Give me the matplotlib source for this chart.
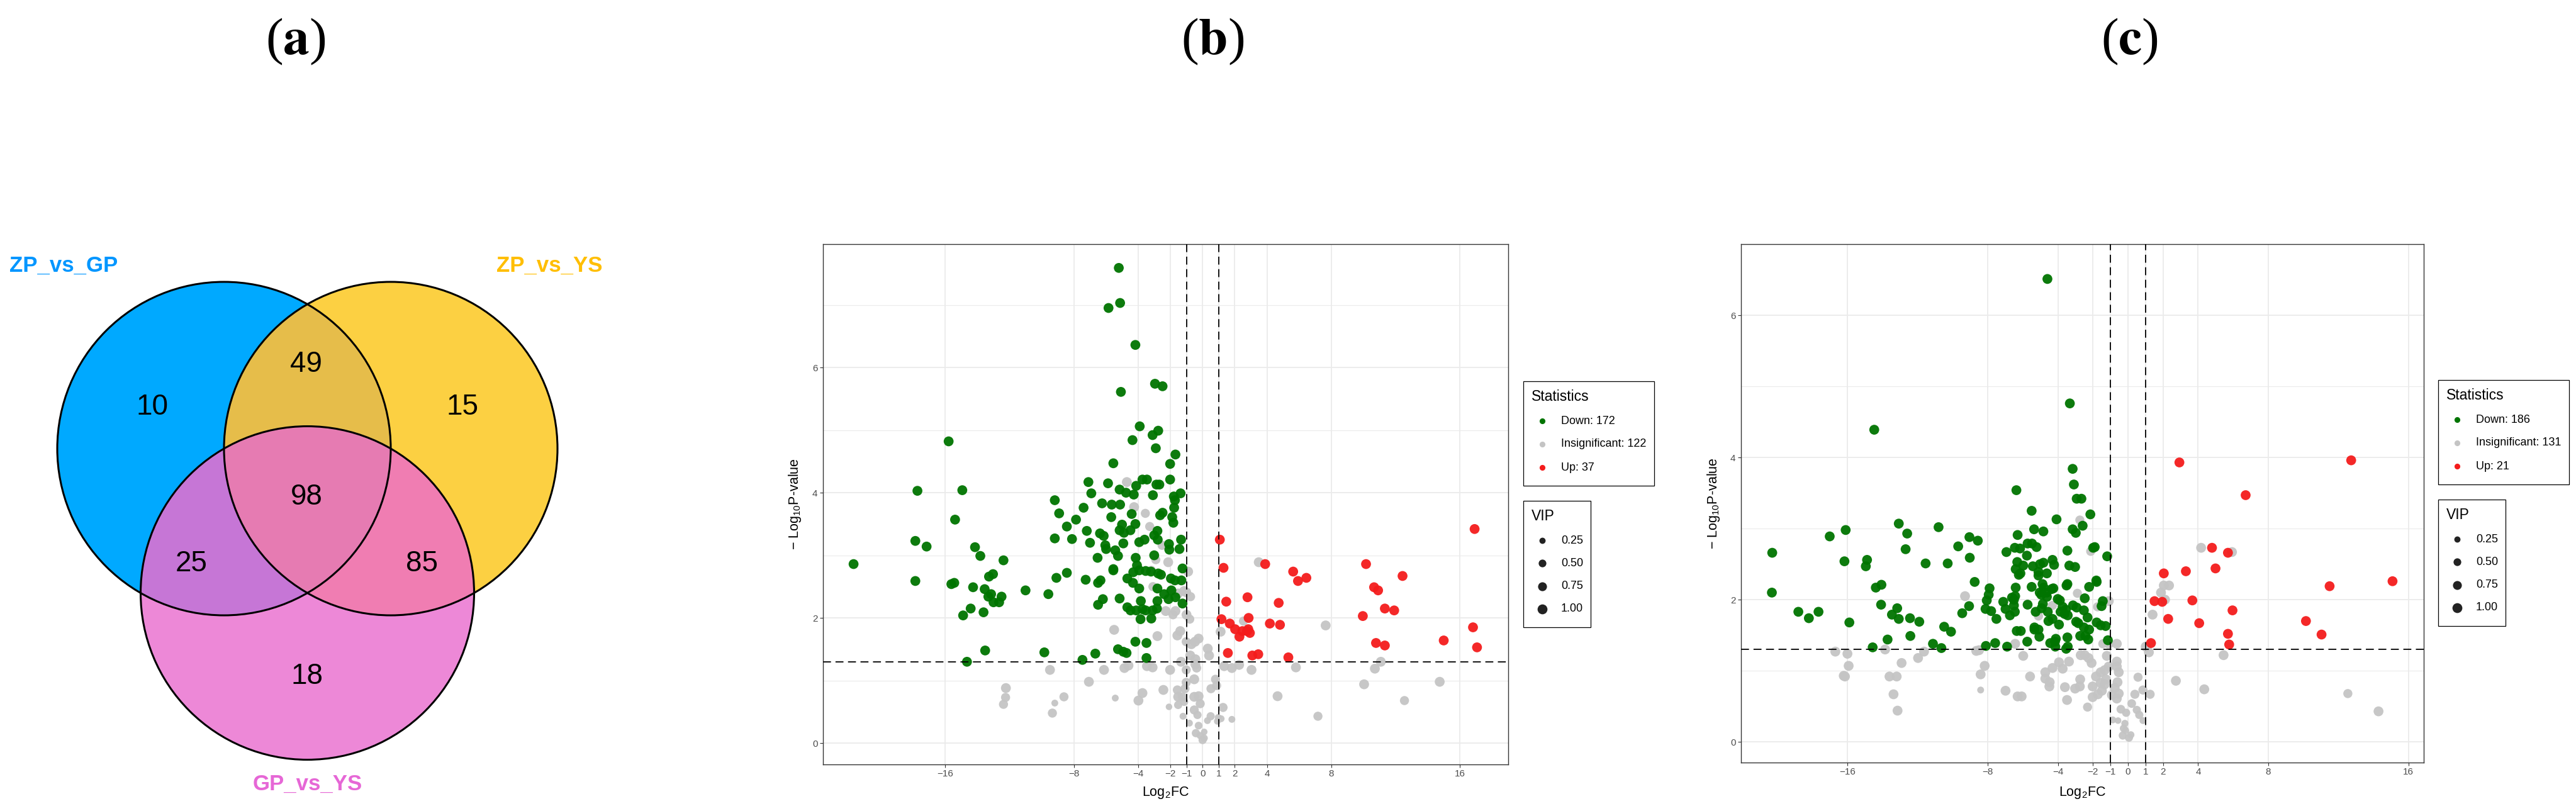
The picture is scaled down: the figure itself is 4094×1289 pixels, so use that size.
import numpy as np
import matplotlib
matplotlib.use("Agg")
import matplotlib.pyplot as plt
from matplotlib.patches import Circle, Rectangle
from matplotlib.lines import Line2D

W, H, DPI = 4094, 1289, 100
plt.rcParams['font.family'] = ['Liberation Sans', 'DejaVu Sans']
plt.rcParams['mathtext.fontset'] = 'custom'
plt.rcParams['mathtext.rm'] = 'Liberation Sans'
plt.rcParams['mathtext.it'] = 'Liberation Sans:italic'
plt.rcParams['mathtext.bf'] = 'Liberation Sans:bold'

# ---------------- data ----------------
panel_titles = ['a', 'b', 'c']

venn_names = ['ZP_vs_GP', 'ZP_vs_YS', 'GP_vs_YS']
venn_regions = ['A', 'B', 'C', 'AB', 'AC', 'BC', 'ABC']
venn_counts = [10, 15, 18, 49, 25, 85, 98]

stat_names = ['Down', 'Insignificant', 'Up']
b_counts = [172, 122, 37]
c_counts = [186, 131, 21]
vip_breaks = [0.25, 0.50, 0.75, 1.00]

x_ticks = [-16, -8, -4, -2, -1, 0, 1, 2, 4, 8, 16]
y_ticks = [0, 2, 4, 6]
fc_cut = 1
p_cut = 0.05

# panel (b): (log2FC, -log10 P, VIP)
b_down = [
    (-5.21, 7.59, 1), (-5.13, 7.03, 1), (-5.85, 6.95, 1), (-4.18, 6.36, 1), (-2.96, 5.74, 1),
    (-2.49, 5.70, 1), (-5.08, 5.61, 1), (-3.91, 5.06, 1), (-2.76, 4.99, 1), (-3.11, 4.92, 1),
    (-4.36, 4.84, 1), (-2.91, 4.71, 1), (-1.69, 4.61, 1), (-2.02, 4.46, 1), (-5.55, 4.47, 1),
    (-15.79, 4.82, 1), (-17.73, 4.03, 1), (-14.94, 4.04, 1), (-15.39, 3.57, 1), (-17.86, 3.23, 1),
    (-17.16, 3.14, 1), (-17.86, 2.59, 1), (-15.62, 2.54, 1), (-15.44, 2.56, 1), (-14.15, 3.13, 1),
    (-13.82, 2.99, 1), (-12.38, 2.92, 1), (-13.28, 2.66, 1), (-13.03, 2.70, 1), (-14.27, 2.49, 1),
    (-13.55, 2.46, 1), (-13.15, 2.38, 1), (-13.32, 2.34, 1), (-12.50, 2.34, 1), (-13.00, 2.25, 1),
    (-12.65, 2.25, 1), (-14.42, 2.15, 1), (-13.62, 2.09, 1), (-14.89, 2.04, 1), (-11.01, 2.44, 1),
    (-9.59, 2.38, 1), (-9.09, 2.64, 1), (-8.44, 2.72, 1), (-13.52, 1.48, 1), (-14.65, 1.30, 1),
    (-9.84, 1.45, 1), (-7.47, 1.33, 1), (-6.67, 1.43, 1), (-9.19, 3.88, 1), (-8.92, 3.67, 1),
    (-9.19, 3.27, 1), (-8.44, 3.46, 1), (-8.12, 3.26, 1), (-7.87, 3.57, 1), (-7.40, 3.76, 1),
    (-7.10, 4.17, 1), (-6.92, 3.99, 1), (-7.20, 3.39, 1), (-7.00, 3.20, 1), (-6.25, 3.83, 1),
    (-5.88, 4.15, 1), (-5.65, 3.81, 1), (-5.16, 4.05, 1), (-5.13, 3.81, 1), (-4.76, 4.00, 1),
    (-4.28, 3.97, 1), (-4.13, 4.11, 1), (-3.74, 4.21, 1), (-3.46, 4.21, 1), (-3.09, 3.96, 1),
    (-2.87, 4.13, 1), (-2.69, 4.13, 1), (-2.02, 4.21, 1), (-1.79, 3.94, 1), (-1.72, 3.88, 1),
    (-1.37, 3.99, 1), (-1.77, 3.76, 1), (-1.89, 3.61, 1), (-1.82, 3.52, 1), (-2.64, 3.64, 1),
    (-2.49, 3.68, 1), (-4.41, 3.66, 1), (-4.18, 3.50, 1), (-5.68, 3.61, 1), (-5.01, 3.49, 1),
    (-5.16, 3.40, 1), (-4.89, 3.36, 1), (-4.49, 3.40, 1), (-6.38, 3.35, 1), (-6.15, 3.31, 1),
    (-6.05, 3.16, 1), (-6.00, 3.10, 1), (-5.43, 3.08, 1), (-5.26, 2.99, 1), (-6.53, 2.96, 1),
    (-4.93, 3.19, 1), (-3.94, 3.21, 1), (-3.61, 3.25, 1), (-3.01, 3.32, 1), (-2.81, 3.39, 1),
    (-2.79, 3.25, 1), (-2.09, 3.18, 1), (-2.07, 3.09, 1), (-1.44, 3.10, 1), (-1.34, 3.25, 1),
    (-4.16, 2.96, 1), (-3.01, 3.00, 1), (-5.55, 2.78, 1), (-5.55, 2.76, 1), (-4.08, 2.84, 1),
    (-4.31, 2.73, 1), (-3.94, 2.76, 1), (-3.54, 2.75, 1), (-3.21, 2.74, 1), (-2.76, 2.71, 1),
    (-2.59, 2.69, 1), (-1.97, 2.63, 1), (-1.72, 2.60, 1), (-1.32, 2.60, 1), (-1.25, 2.79, 1),
    (-4.68, 2.63, 1), (-4.33, 2.56, 1), (-3.94, 2.47, 1), (-2.81, 2.47, 1), (-7.27, 2.61, 1),
    (-6.50, 2.56, 1), (-6.35, 2.60, 1), (-6.50, 2.21, 1), (-6.20, 2.30, 1), (-5.16, 2.31, 1),
    (-3.84, 2.27, 1), (-2.81, 2.27, 1), (-2.12, 2.30, 1), (-1.94, 2.44, 1), (-1.69, 2.33, 1),
    (-1.25, 2.23, 1), (-2.39, 2.38, 1), (-4.68, 2.17, 1), (-4.48, 2.12, 1), (-4.13, 2.12, 1),
    (-3.74, 2.14, 1), (-3.54, 2.12, 1), (-3.11, 2.12, 1), (-2.84, 2.15, 1), (-3.86, 1.98, 1),
    (-3.19, 1.99, 1), (-5.26, 1.50, 1), (-4.93, 1.46, 1), (-4.73, 1.44, 1), (-4.18, 1.62, 1),
    (-3.49, 1.60, 1), (-3.49, 1.36, 1), (-21.70, 2.86, 1),
]
b_insig = [
    (-4.71, 4.17, 1), (-4.26, 3.77, 1), (-3.56, 3.67, 0.8), (-3.29, 3.46, 0.8), (-2.52, 3.16, 0.8),
    (-2.14, 2.89, 1), (-2.91, 2.93, 0.8), (-3.09, 2.50, 0.8), (-3.19, 2.76, 0.8), (-1.99, 2.42, 1),
    (-1.52, 2.39, 1), (-1.15, 2.43, 1), (-0.90, 2.74, 1), (-1.02, 2.41, 1), (-0.75, 2.34, 0.8),
    (-2.29, 2.11, 1), (-1.69, 2.11, 1), (-1.84, 2.05, 0.8), (-1.00, 2.05, 1), (-0.80, 1.98, 0.8),
    (-5.50, 1.81, 1), (-2.81, 1.71, 1), (-1.57, 1.72, 1), (-1.39, 1.79, 1), (-1.02, 1.62, 0.8),
    (-0.47, 1.62, 1), (-0.25, 1.67, 1), (0.32, 1.51, 1), (0.40, 1.40, 1), (-0.77, 1.40, 1),
    (-0.45, 1.34, 1), (-1.34, 1.30, 1), (-1.02, 1.17, 0.8), (-0.45, 1.26, 1), (-0.37, 1.20, 0.8),
    (1.12, 1.78, 1), (2.54, 1.95, 0.8), (3.49, 2.89, 1), (7.65, 1.88, 1), (1.34, 1.23, 1),
    (1.82, 1.20, 1), (2.27, 1.25, 1), (3.04, 1.17, 1), (5.80, 1.21, 1), (10.71, 1.19, 1),
    (11.08, 1.30, 1), (10.04, 0.94, 1), (14.74, 0.98, 1), (12.55, 0.68, 0.8), (7.17, 0.43, 0.8),
    (4.66, 0.75, 1), (1.82, 0.38, 0.35), (1.27, 0.57, 0.8), (1.15, 0.39, 0.35), (0.92, 0.35, 0.35),
    (0.80, 1.02, 0.8), (0.87, 0.92, 0.8), (0.52, 0.87, 0.8), (-0.52, 1.02, 1), (-1.02, 0.97, 0.8),
    (-1.10, 0.87, 0.8), (-1.27, 0.74, 0.8), (-1.15, 0.66, 0.6), (-1.52, 0.74, 1), (-1.57, 0.85, 0.8),
    (-2.44, 0.85, 1), (-2.09, 0.58, 0.3), (-1.22, 0.43, 0.35), (-0.82, 0.32, 0.35), (-0.52, 0.74, 1),
    (-0.25, 0.75, 1), (-0.15, 0.63, 0.8), (-0.52, 0.53, 0.8), (-0.32, 0.45, 0.6), (-0.25, 0.28, 0.5),
    (-0.42, 0.16, 0.6), (-0.15, 0.12, 0.4), (0.10, 0.18, 0.3), (0.00, 0.05, 0.6), (0.10, 0.08, 0.4),
    (0.30, 0.36, 0.35), (0.50, 0.43, 0.6), (0.97, 0.41, 0.35), (-3.74, 0.80, 1), (-3.99, 0.68, 1),
    (-5.43, 0.72, 0.35), (-7.07, 0.98, 1), (-8.62, 0.74, 0.8), (-9.19, 0.64, 0.35), (-9.34, 0.48, 0.8),
    (-9.49, 1.17, 1), (-6.13, 1.17, 1), (-4.86, 1.20, 1), (-4.61, 1.24, 1), (-3.46, 1.23, 1),
    (-3.11, 1.21, 1), (-2.02, 1.17, 1), (-12.23, 0.88, 1), (-12.25, 0.73, 0.8), (-12.38, 0.62, 0.8),
    (-1.52, 0.61, 0.6), (-0.70, 1.58, 1),
]
b_up = [
    (1.07, 3.25, 1), (1.30, 2.80, 1), (1.47, 2.26, 1), (1.17, 1.98, 1), (1.69, 1.91, 1),
    (2.02, 1.82, 1), (2.29, 1.70, 1), (2.47, 1.79, 1), (2.76, 1.79, 1), (2.84, 1.82, 1),
    (2.94, 1.76, 1), (2.79, 2.33, 1), (2.86, 2.00, 1), (1.57, 1.44, 1), (3.09, 1.40, 1),
    (3.46, 1.42, 1), (3.89, 2.86, 1), (4.18, 1.91, 1), (4.73, 2.24, 1), (4.81, 1.89, 1),
    (5.33, 1.37, 1), (5.63, 2.74, 1), (5.93, 2.59, 1), (6.45, 2.64, 1), (10.16, 2.86, 1),
    (9.96, 2.03, 1), (10.66, 2.49, 1), (10.91, 2.44, 1), (11.33, 2.15, 1), (11.91, 2.12, 1),
    (12.43, 2.67, 1), (10.78, 1.60, 1), (11.33, 1.56, 1), (14.99, 1.64, 1), (16.81, 1.85, 1),
    (17.06, 1.53, 1), (16.91, 3.42, 1),
]

# panel (c)
c_down = [
    (-4.60, 6.51, 1), (-3.32, 4.76, 1), (-14.48, 4.39, 1), (-3.16, 3.84, 1), (-3.09, 3.62, 1),
    (-6.37, 3.54, 1), (-2.93, 3.42, 1), (-2.66, 3.42, 1), (-5.50, 3.25, 1), (-2.15, 3.20, 1),
    (-4.08, 3.13, 1), (-2.59, 3.04, 1), (-3.16, 2.99, 1), (-2.98, 2.94, 1), (-5.36, 2.99, 1),
    (-4.83, 2.96, 1), (-6.30, 2.91, 1), (-13.08, 3.07, 1), (-12.60, 2.93, 1), (-10.81, 3.02, 1),
    (-16.11, 2.98, 1), (-17.02, 2.89, 1), (-20.30, 2.66, 1), (-20.32, 2.10, 1), (-16.18, 2.54, 1),
    (-14.89, 2.56, 1), (-14.96, 2.47, 1), (-12.69, 2.71, 1), (-11.55, 2.51, 1), (-10.29, 2.51, 1),
    (-9.69, 2.75, 1), (-9.05, 2.88, 1), (-8.57, 2.83, 1), (-9.03, 2.59, 1), (-8.75, 2.25, 1),
    (-7.90, 2.16, 1), (-7.95, 2.07, 1), (-8.06, 1.99, 1), (-8.13, 1.87, 1), (-7.81, 1.84, 1),
    (-7.51, 1.73, 1), (-8.11, 1.35, 1), (-7.58, 1.39, 1), (-6.90, 1.34, 1), (-9.07, 1.91, 1),
    (-9.46, 1.81, 1), (-6.94, 2.67, 1), (-6.46, 2.73, 1), (-6.16, 2.72, 1), (-5.73, 2.79, 1),
    (-5.48, 2.79, 1), (-5.22, 2.74, 1), (-5.77, 2.62, 1), (-6.32, 2.53, 1), (-5.98, 2.48, 1),
    (-6.41, 2.43, 1), (-6.23, 2.35, 1), (-6.14, 2.37, 1), (-5.43, 2.47, 1), (-5.02, 2.50, 1),
    (-4.83, 2.52, 1), (-5.11, 2.39, 1), (-5.11, 2.34, 1), (-4.63, 2.37, 1), (-4.31, 2.56, 1),
    (-4.22, 2.49, 1), (-3.46, 2.69, 1), (-3.35, 2.48, 1), (-3.02, 2.46, 1), (-3.46, 2.22, 1),
    (-3.51, 2.20, 1), (-2.22, 2.18, 1), (-1.99, 2.73, 1), (-1.90, 2.74, 1), (-1.19, 2.61, 1),
    (-1.81, 2.27, 1), (-1.79, 2.25, 1), (-6.41, 2.17, 1), (-5.50, 2.18, 1), (-4.88, 2.22, 1),
    (-4.81, 2.17, 1), (-6.44, 2.05, 1), (-6.51, 2.00, 1), (-6.51, 1.92, 1), (-6.62, 2.03, 1),
    (-7.12, 1.97, 1), (-6.99, 1.87, 1), (-6.74, 1.78, 1), (-6.46, 1.83, 1), (-5.73, 1.93, 1),
    (-5.27, 1.83, 1), (-5.04, 2.10, 1), (-4.95, 2.07, 1), (-4.63, 2.10, 1), (-4.63, 2.04, 1),
    (-4.35, 2.15, 1), (-4.26, 2.16, 1), (-4.01, 2.01, 1), (-3.89, 1.99, 1), (-3.73, 1.90, 1),
    (-3.55, 1.86, 1), (-3.85, 1.83, 1), (-3.62, 1.80, 1), (-4.86, 1.94, 1), (-4.93, 1.88, 1),
    (-4.58, 1.83, 1), (-4.31, 1.73, 1), (-4.54, 1.70, 1), (-3.94, 1.65, 1), (-3.44, 1.78, 1),
    (-3.14, 1.92, 1), (-2.93, 1.89, 1), (-2.52, 1.85, 1), (-2.47, 2.02, 1), (-2.96, 1.69, 1),
    (-2.84, 1.67, 1), (-2.31, 1.75, 1), (-1.79, 1.68, 1), (-1.56, 1.64, 1), (-1.28, 1.63, 1),
    (-1.44, 1.98, 1), (-1.51, 1.91, 1), (-2.52, 1.61, 1), (-2.22, 1.58, 1), (-2.73, 1.49, 1),
    (-2.43, 1.49, 1), (-2.27, 1.44, 1), (-1.15, 1.43, 1), (-5.34, 1.61, 1), (-5.11, 1.58, 1),
    (-5.34, 1.58, 1), (-5.06, 1.48, 1), (-6.35, 1.56, 1), (-6.12, 1.56, 1), (-5.75, 1.41, 1),
    (-4.12, 1.45, 1), (-4.17, 1.41, 1), (-4.44, 1.39, 1), (-3.46, 1.47, 1), (-3.44, 1.34, 1),
    (-4.15, 1.34, 1), (-3.53, 1.31, 1), (-14.07, 2.21, 1), (-14.39, 2.17, 1), (-14.09, 1.93, 1),
    (-13.47, 1.79, 1), (-13.17, 1.88, 1), (-13.08, 1.73, 1), (-12.44, 1.74, 1), (-12.42, 1.49, 1),
    (-11.91, 1.69, 1), (-13.72, 1.44, 1), (-14.57, 1.33, 1), (-15.90, 1.68, 1), (-17.66, 1.83, 1),
    (-18.21, 1.74, 1), (-18.81, 1.83, 1), (-11.13, 1.38, 1), (-10.65, 1.32, 1), (-10.49, 1.62, 1),
    (-10.10, 1.55, 1),
]
c_insig = [
    (-2.75, 3.12, 0.8), (-2.13, 2.68, 0.8), (-2.89, 2.09, 0.8), (-9.30, 2.05, 1), (-4.31, 1.92, 0.8),
    (-5.11, 1.77, 0.8), (-1.74, 1.90, 0.8), (-1.10, 1.98, 1), (1.88, 2.10, 1), (2.04, 2.20, 1),
    (2.34, 2.20, 1), (2.11, 2.00, 1), (1.40, 1.79, 1), (4.17, 2.73, 1), (5.93, 2.67, 1),
    (1.01, 1.34, 1), (1.19, 1.26, 1), (-0.64, 1.38, 1), (-1.10, 1.38, 1), (-1.44, 1.38, 0.8),
    (-1.21, 1.21, 1), (-0.64, 1.13, 1), (-0.64, 1.06, 1), (-0.53, 0.98, 1), (-1.10, 1.06, 1),
    (-1.33, 1.01, 1), (-1.56, 0.98, 1), (-1.83, 0.92, 1), (-2.08, 1.11, 1), (-2.25, 1.18, 1),
    (-2.47, 1.22, 1), (-2.70, 1.22, 1), (-3.37, 1.13, 1), (-3.73, 1.03, 1), (-3.94, 1.12, 1),
    (-4.31, 1.04, 1), (-4.72, 0.98, 1), (-4.72, 0.89, 1), (-4.47, 0.84, 1), (-4.49, 0.78, 1),
    (-3.60, 0.77, 1), (-3.02, 0.75, 1), (-2.73, 0.88, 1), (-2.75, 0.78, 1), (-2.02, 0.78, 1),
    (-2.02, 0.63, 1), (-2.31, 0.49, 0.8), (-1.72, 0.67, 1), (-1.49, 0.72, 1), (-1.33, 0.81, 1),
    (-1.26, 0.88, 1), (-1.56, 0.83, 1), (-0.92, 0.66, 1), (-0.64, 0.61, 1), (-0.53, 0.68, 1),
    (-0.41, 0.46, 0.7), (-0.11, 0.41, 0.6), (0.21, 0.54, 0.7), (0.39, 0.67, 0.8), (0.57, 0.91, 0.8),
    (0.85, 0.73, 0.8), (1.26, 0.67, 0.8), (0.50, 0.45, 0.6), (0.64, 0.38, 0.6), (0.85, 0.30, 0.35),
    (-0.87, 0.31, 0.35), (-0.57, 0.30, 0.3), (-0.18, 0.26, 0.4), (-0.25, 0.19, 0.5), (-0.30, 0.09, 0.6),
    (0.05, 0.06, 0.6), (0.16, 0.10, 0.4), (-0.14, 0.16, 0.4), (-3.48, 0.59, 1), (-5.59, 0.92, 1),
    (-6.07, 0.64, 1), (-6.30, 0.64, 1), (-6.99, 0.72, 1), (-5.98, 1.21, 1), (-6.44, 1.38, 1),
    (-8.18, 1.07, 1), (-8.41, 0.95, 1), (-8.41, 0.73, 0.35), (-8.50, 1.29, 1), (-8.66, 1.28, 1),
    (-11.64, 1.27, 1), (-11.98, 1.18, 1), (-12.92, 1.11, 1), (-13.86, 1.30, 1), (-13.20, 0.92, 1),
    (-13.61, 0.92, 1), (-13.38, 0.67, 1), (-13.15, 0.44, 1), (-16.70, 1.27, 1), (-16.01, 1.24, 1),
    (-15.94, 1.07, 1), (-16.22, 0.93, 1), (-16.15, 0.92, 1), (2.73, 0.86, 1), (4.35, 0.74, 1),
    (5.45, 1.22, 1), (-0.60, 0.84, 1), (-0.76, 0.76, 1), (12.54, 0.68, 0.8), (14.29, 0.43, 1),
]
c_up = [
    (1.31, 1.39, 1), (1.51, 1.98, 1), (1.95, 1.97, 1), (2.04, 2.37, 1), (2.29, 1.73, 1),
    (2.93, 3.93, 1), (3.30, 2.40, 1), (3.67, 1.99, 1), (4.06, 1.67, 1), (4.79, 2.73, 1),
    (4.99, 2.44, 1), (5.70, 2.66, 1), (5.96, 1.85, 1), (5.70, 1.52, 1), (5.77, 1.37, 1),
    (6.71, 3.47, 1), (10.15, 1.70, 1), (11.04, 1.51, 1), (12.73, 3.96, 1), (11.50, 2.19, 1),
    (15.09, 2.26, 1),
]

# ---------------- style ----------------
GREEN, GREY, RED = '#007400', '#C4C4C4', '#F41C1C'
STAT_COLORS = [GREEN, GREY, RED]
VENN_FILL = {'A': '#00A9FF', 'B': '#FDD042', 'C': '#EE88D8', 'AB': '#E6BE4A',
             'AC': '#C677D6', 'BC': '#F07DB2', 'ABC': '#E67BB2'}
VENN_LABEL_COLORS = ['#0096FF', '#FFBE00', '#E667D6']


def vip_to_d(v):
    return 4 + 12 * np.sqrt(np.asarray(v, float) / 1.05)   # pixel diameter


def vip_to_s(v):
    return (vip_to_d(v) * 72 / DPI) ** 2


fig = plt.figure(figsize=(W / DPI, H / DPI), dpi=DPI)
fig.patch.set_facecolor('white')


def px_axes(l, t, r, b):
    return fig.add_axes([l / W, 1 - b / H, (r - l) / W, (b - t) / H])


ov = px_axes(0, 0, W, H)
ov.set_xlim(0, W)
ov.set_ylim(H, 0)
ov.axis('off')

# panel titles
for lab, xc in zip(panel_titles, [470, 1927, 3384]):
    ov.text(xc, 66, r'($\mathbf{%s}$)' % lab, fontsize=60, family='Liberation Serif',
            math_fontfamily='stix', ha='center', va='center')

# ---------------- Venn (a) ----------------
R = 265.0
vax = px_axes(0, 300, 1000, 1289)
x0v, x1v = -488.5 / R, 511.5 / R
y0v, y1v = (713 - 1289) / R, (713 - 300) / R
vax.set_xlim(x0v, x1v)
vax.set_ylim(y0v, y1v)
vax.axis('off')
centers = [(-0.5, 0.0), (0.5, 0.0), (0.0, -np.sqrt(3) / 2)]
nx, ny = 2000, 1978
gx = np.linspace(x0v, x1v, nx)
gy = np.linspace(y0v, y1v, ny)
X, Y = np.meshgrid(gx, gy)
ins = [((X - cx) ** 2 + (Y - cy) ** 2) <= 1.0 for cx, cy in centers]
img = np.zeros((ny, nx, 4))
for reg in venn_regions:
    mask = np.ones_like(X, bool)
    for k, letter in enumerate('ABC'):
        mask &= ins[k] if letter in reg else ~ins[k]
    img[mask] = matplotlib.colors.to_rgba(VENN_FILL[reg])
vax.imshow(img, extent=(x0v, x1v, y0v, y1v), origin='lower', interpolation='antialiased',
           aspect='auto', zorder=1)
for cx, cy in centers:
    vax.add_patch(Circle((cx, cy), 1.0, fill=False, ec='black', lw=2.2, zorder=2))
count_pos = {'A': (-0.930, 0.249), 'B': (0.930, 0.249), 'C': (0.0, -1.366),
             'AB': (-0.006, 0.506), 'AC': (-0.696, -0.691), 'BC': (0.685, -0.691),
             'ABC': (-0.006, -0.291)}
for reg, cnt in zip(venn_regions, venn_counts):
    px, py = count_pos[reg]
    vax.text(px, py, str(cnt), fontsize=33, ha='center', va='center', zorder=3)
name_pos = [(-1.462, 1.098), (1.451, 1.098), (0.0, -2.011)]
for nm, (px, py), col in zip(venn_names, name_pos, VENN_LABEL_COLORS):
    vax.text(px, py, nm, fontsize=25, fontweight='bold', color=col, ha='center',
             va='center', zorder=3, clip_on=False)


# ---------------- volcano panels ----------------
def fmt(v):
    return ('\u2212%g' % -v) if v < 0 else '%g' % v


def volcano(box, down, insig, up, xlim, ylim):
    l, t, r, b = box
    ax = px_axes(l, t, r, b)
    for pts, col in ((insig, GREY), (down, GREEN), (up, RED)):
        a = np.array(pts, float)
        ax.scatter(a[:, 0], a[:, 1], s=vip_to_s(a[:, 2]), c=col, alpha=0.95,
                   linewidths=0, zorder=3)
    dash = (0, (7, 4))
    for xv in (-fc_cut, fc_cut):
        ax.axvline(xv, color='black', lw=1.3, ls=dash, zorder=4)
    ax.axhline(-np.log10(p_cut), color='black', lw=1.3, ls=dash, zorder=4)
    ax.set_xlim(*xlim)
    ax.set_ylim(*ylim)
    ax.set_xticks(x_ticks)
    ax.set_xticklabels([fmt(v) for v in x_ticks])
    ax.set_yticks(y_ticks)
    ax.set_yticklabels([fmt(v) for v in y_ticks])
    ax.set_yticks([1, 3, 5, 7], minor=True)
    ax.grid(True, which='major', color='#EBEBEB', lw=1.3, zorder=0)
    ax.grid(True, which='minor', axis='y', color='#EBEBEB', lw=0.8, zorder=0)
    ax.set_axisbelow(True)
    ax.tick_params(which='major', direction='out', length=3.6, width=0.8, color='#333333',
                   labelsize=11, labelcolor='#4D4D4D', pad=2.5)
    ax.tick_params(which='minor', length=0)
    for sp in ax.spines.values():
        sp.set_color('#333333')
        sp.set_linewidth(1.0)
    ov.text((l + r) / 2, 1260, r'Log$_2$FC', fontsize=15.5, ha='center', va='center')
    ov.text(l - 44, (t + b) / 2, r'$-$ Log$_{10}$P-value', fontsize=15.5, rotation=90,
            ha='center', va='center')
    return ax


volcano((1308, 388, 2397, 1215), b_down, b_insig, b_up, (-23.6, 19.0), (-0.34, 7.97))
volcano((2767, 388, 3852, 1212), c_down, c_insig, c_up, (-22.08, 16.87), (-0.29, 6.83))


# ---------------- legends ----------------
def legend(x0, y0, counts):
    ov.add_patch(Rectangle((x0, y0), 208, 166, fill=False, ec='black', lw=0.9))
    ov.text(x0 + 13, y0 + 31, 'Statistics', fontsize=16.5, va='baseline', ha='left')
    for i, (nm, cnt, col) in enumerate(zip(stat_names, counts, STAT_COLORS)):
        yy = y0 + 63 + 37 * i
        ov.add_line(Line2D([x0 + 30], [yy], marker='o', ms=6.6, mew=0, color=col, ls=''))
        ov.text(x0 + 60, yy, f'{nm}: {cnt}', fontsize=13, va='center', ha='left')
    vy = y0 + 190
    ov.add_patch(Rectangle((x0, vy), 107, 201, fill=False, ec='black', lw=0.9))
    ov.text(x0 + 13, vy + 31, 'VIP', fontsize=16.5, va='baseline', ha='left')
    for i, v in enumerate(vip_breaks):
        yy = vy + 63 + 36.3 * i
        ov.add_line(Line2D([x0 + 30], [yy], marker='o', ms=float(vip_to_d(v)) * 72 / DPI,
                           mew=0, color='#222222', ls=''))
        ov.text(x0 + 60, yy, '%.2f' % v, fontsize=13, va='center', ha='left')


legend(2421, 606, b_counts)
legend(3875, 604, c_counts)

fig.savefig('out.png', dpi=DPI, facecolor='white')
